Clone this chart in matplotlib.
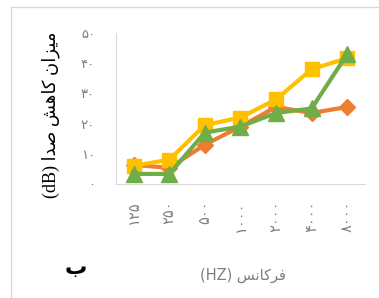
import matplotlib
matplotlib.use('Agg')
import matplotlib.pyplot as plt
from matplotlib.patches import Rectangle

plt.rcParams['font.family'] = ['DejaVu Sans']

# x categories (Hz), shown with Persian digits
freqs = ['125', '250', '500', '1000', '2000', '4000', '8000']
orange_vals = [6.3, 5.3, 13, 19, 25.5, 23.5, 25.5]
yellow_vals = [6, 8, 19.5, 22, 28, 38, 41.7]
green_vals = [3.3, 3.3, 17, 19, 23.5, 25, 43]
yticks = [0, 10, 20, 30, 40, 50]

fa = str.maketrans('0123456789', '\u06F0\u06F1\u06F2\u06F3\u06F4\u06F5\u06F6\u06F7\u06F8\u06F9')

# shaped Persian, visual order (matplotlib does no bidi / shaping)
ylab = '(dB) ' + '\uFE8D\uFEAA\uFEBB' + ' ' + '\uFEB6\uFEEB\uFE8E\uFB90' + ' ' + '\uFEE5\uFE8D\uFEB0\uFBFF\uFEE3'
xlab = '(HZ) ' + '\uFEB2\uFEE7\uFE8E\uFB90\uFEAE\uFED3'

fig = plt.figure(figsize=(3.79, 2.98), dpi=100)
ax = fig.add_axes([0.306, 0.383, 0.657, 0.506])

x = range(len(freqs))
ax.plot(x, orange_vals, color='#ED7D31', lw=3, marker='D', ms=8, zorder=3)
ax.plot(x, yellow_vals, color='#FFC000', lw=3, marker='s', ms=10, zorder=4)
ax.plot(x, green_vals, color='#70AD47', lw=3, marker='^', ms=11, zorder=5)

ax.set_xlim(-0.5, 6.5)
ax.set_ylim(0, 50)
ax.set_yticks(yticks)
ax.set_yticklabels([str(v).translate(fa) for v in yticks], color='#7f7f7f', fontsize=9.5)
ax.set_xticks(list(x))
ax.set_xticklabels([f.translate(fa) for f in freqs], rotation=90, color='#7f7f7f', fontsize=10.5)
ax.tick_params(axis='x', length=0, pad=12)
ax.tick_params(axis='y', length=0, pad=15)

for s in ['top', 'right']:
    ax.spines[s].set_visible(False)
ax.spines['left'].set_color('#d9d9d9')
ax.spines['bottom'].set_color('#d9d9d9')

fig.text(0.135, 0.615, ylab, rotation=90, ha='center', va='center', fontsize=13,
         family=['Liberation Serif', 'DejaVu Sans'])
fig.text(0.64, 0.077, xlab, ha='center', va='center', fontsize=10.5, color='#7f7f7f')
fig.text(0.2, 0.1, '\u0628', ha='center', va='center', fontsize=16, fontweight='bold')

fig.patches.append(Rectangle((11 / 379, -0.1), 1.2, (298 - 7) / 298 + 0.1,
                             transform=fig.transFigure, fill=False,
                             edgecolor='#d9d9d9', lw=1))

fig.savefig('out.png', dpi=100)
